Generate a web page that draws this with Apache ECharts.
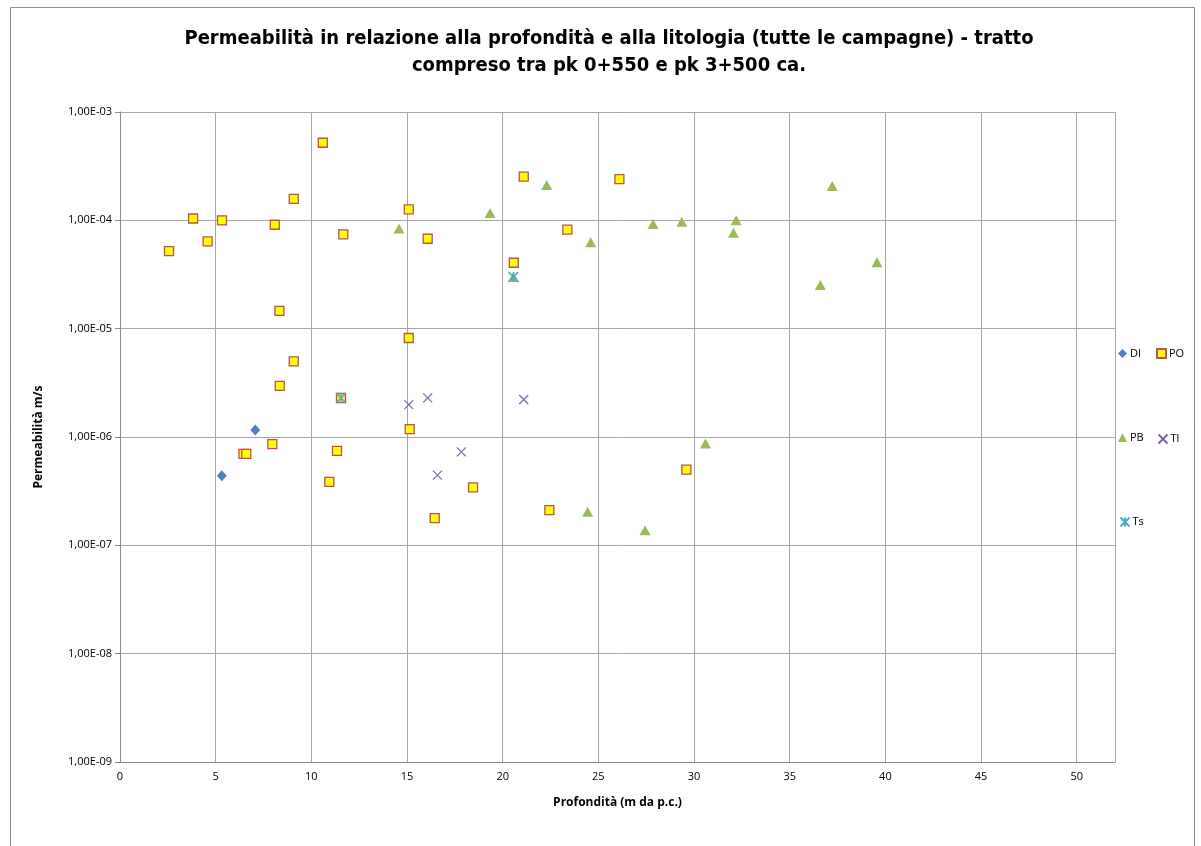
<!DOCTYPE html>
<html>
<head>
<meta charset="utf-8">
<script src="https://cdn.jsdelivr.net/npm/echarts@6/dist/echarts.min.js"></script>
<style>
html,body{margin:0;padding:0;background:#fff;}
#c{width:1201px;height:846px;}
</style>
</head>
<body>
<div id="c"></div>
<script>
const xTicks = [0, 5, 10, 15, 20, 25, 30, 35, 40, 45, 50];
const dataDI = [[5.32,4.4e-7],[7.07,1.16e-6]];
const dataPO = [[2.56,5.2e-5],[3.82,1.04e-4],[4.58,6.4e-5],[5.33,1.0e-4],[6.45,7.0e-7],[6.6,7.0e-7],[7.96,8.6e-7],[8.09,9.1e-5],[8.33,1.46e-5],[8.35,2.97e-6],[9.08,1.58e-4],[9.08,5.0e-6],[10.6,5.2e-4],[10.94,3.86e-7],[11.34,7.46e-7],[11.55,2.29e-6],[11.67,7.43e-5],[15.09,1.26e-4],[15.09,8.2e-6],[15.14,1.18e-6],[16.08,6.76e-5],[16.45,1.78e-7],[18.45,3.43e-7],[20.58,4.06e-5],[21.1,2.53e-4],[22.44,2.11e-7],[23.38,8.2e-5],[26.1,2.4e-4],[29.6,5.0e-7]];
const dataPB = [[14.58,8.4e-5],[19.34,1.17e-4],[20.56,3.0e-5],[22.3,2.12e-4],[24.44,2.04e-7],[24.6,6.26e-5],[27.44,1.38e-7],[27.86,9.25e-5],[29.36,9.7e-5],[30.6,8.73e-7],[32.06,7.69e-5],[32.2,1.0e-4],[36.6,2.53e-5],[37.22,2.07e-4],[39.56,4.1e-5]];
const dataTI = [[15.09,1.99e-6],[16.08,2.3e-6],[16.59,4.45e-7],[17.84,7.3e-7],[21.1,2.22e-6]];
const dataTs = [[11.55,2.29e-6],[20.56,3.0e-5]];

const font = '"Liberation Sans Narrow", "DejaVu Sans Condensed", Arial, sans-serif';
const fontReg = '"Open Sans", "Liberation Sans", Arial, sans-serif';

function fmtY(v){
  const e = Math.round(Math.log10(v));
  const a = Math.abs(e);
  return '1,00E' + (e < 0 ? '-' : '+') + (a < 10 ? '0' + a : a);
}

const chart = echarts.init(document.getElementById('c'), null, {renderer:'canvas'});
function leg(name, left, top){
  return {data:[name], left:left, top:top, itemWidth:9, itemHeight:9, padding:5,
    textStyle:{fontFamily:fontReg, fontSize:11, color:'#000', padding:[0,0,0,-2]}, selectedMode:false};
}
chart.setOption({
  backgroundColor:'#fff',
  animation:false,
  graphic:[{type:'rect', shape:{x:10.5, y:7.5, width:1184, height:900}, style:{fill:'none', stroke:'#8c8c8c', lineWidth:1}, silent:true}],
  title:{
    text:'Permeabilità in relazione alla profondità e alla litologia (tutte le campagne) - tratto\ncompreso tra pk 0+550 e pk 3+500 ca.',
    left:604, top:20, textAlign:'center',
    textStyle:{fontFamily:font, fontWeight:'bold', fontSize:20, lineHeight:27, color:'#000'}
  },
  legend:[leg('DI',1113,343), leg('PO',1151,343), leg('PB',1113,427), leg('Tl',1151,427), leg('Ts',1113,510)],
  grid:{left:120, right:86, top:112, bottom:84},
  xAxis:{
    type:'value', min:0, max:52, interval:5,
    name:'Profondità (m da p.c.)', nameLocation:'middle', nameGap:35,
    nameTextStyle:{fontFamily:fontReg, fontWeight:'bold', fontSize:12, color:'#000'},
    axisLine:{lineStyle:{color:'#8c8c8c'}}, axisTick:{show:false},
    axisLabel:{fontFamily:fontReg, fontSize:11, color:'#000', margin:9,
      formatter:function(v){return xTicks.indexOf(v)>=0 ? String(v) : '';}},
    splitLine:{show:true, lineStyle:{color:'#a6a6a6', width:1}}
  },
  yAxis:{
    type:'log', logBase:10, min:1e-9, max:1e-3,
    name:'Permeabilità m/s', nameLocation:'middle', nameGap:75, nameRotate:90,
    nameTextStyle:{fontFamily:fontReg, fontWeight:'bold', fontSize:12, color:'#000'},
    axisLine:{show:true, lineStyle:{color:'#8c8c8c'}},
    axisTick:{show:true, inside:false, length:5, lineStyle:{color:'#8c8c8c'}},
    minorTick:{show:false},
    axisLabel:{fontFamily:fontReg, fontSize:11, color:'#000', margin:8, formatter:fmtY},
    splitLine:{show:true, lineStyle:{color:'#a6a6a6', width:1}}
  },
  series:[
    {name:'DI', type:'scatter', data:dataDI, symbol:'diamond', symbolSize:[10,11],
      itemStyle:{color:'#4f81bd', opacity:1}},
    {name:'PO', type:'scatter', data:dataPO, symbol:'rect', symbolSize:9,
      itemStyle:{color:'#ffff00', borderColor:'#c0504d', borderWidth:1.3, opacity:1}},
    {name:'PB', type:'scatter', data:dataPB, symbol:'triangle', symbolSize:[11,10],
      itemStyle:{color:'#9bbb59', opacity:1}},
    {name:'Tl', type:'scatter', data:dataTI, symbol:'path://M0,0L10,10M10,0L0,10', symbolSize:9,
      itemStyle:{color:'none', borderColor:'#8064a2', borderWidth:1.2, opacity:1}},
    {name:'Ts', type:'scatter', data:dataTs, symbol:'path://M0,0L10,10M10,0L0,10M5,0L5,10', symbolSize:10,
      itemStyle:{color:'none', borderColor:'#4bacc6', borderWidth:1.5, opacity:1}}
  ]
});
</script>
</body>
</html>
